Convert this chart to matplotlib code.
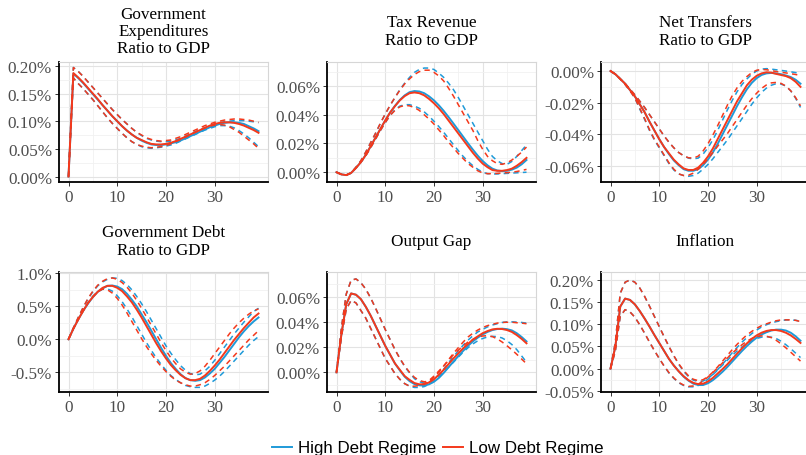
import matplotlib
matplotlib.use("Agg")
import matplotlib.pyplot as plt
from matplotlib.ticker import FixedLocator, FuncFormatter
from matplotlib.lines import Line2D

t = list(range(40))

# ---------------- Government Expenditures (ratio to GDP, %) ----------------
ge_low = [0.000, 0.187, 0.179, 0.170, 0.160, 0.150, 0.140, 0.129, 0.119, 0.109,
          0.100, 0.091, 0.083, 0.076, 0.070, 0.066, 0.062, 0.059, 0.058, 0.058,
          0.059, 0.061, 0.064, 0.068, 0.072, 0.076, 0.080, 0.084, 0.088, 0.092,
          0.095, 0.097, 0.098, 0.098, 0.097, 0.095, 0.092, 0.088, 0.084, 0.079]
ge_low_up = [0.000, 0.197, 0.190, 0.181, 0.171, 0.161, 0.151, 0.141, 0.131, 0.121,
             0.112, 0.103, 0.095, 0.087, 0.080, 0.075, 0.070, 0.067, 0.065, 0.064,
             0.065, 0.066, 0.069, 0.072, 0.076, 0.080, 0.084, 0.088, 0.092, 0.095,
             0.098, 0.100, 0.102, 0.103, 0.104, 0.104, 0.103, 0.102, 0.100, 0.098]
ge_low_lo = [0.000, 0.178, 0.168, 0.159, 0.149, 0.139, 0.128, 0.117, 0.106, 0.096,
             0.087, 0.078, 0.070, 0.063, 0.058, 0.055, 0.053, 0.052, 0.053, 0.054,
             0.056, 0.059, 0.063, 0.067, 0.071, 0.076, 0.080, 0.084, 0.088, 0.091,
             0.093, 0.094, 0.093, 0.090, 0.085, 0.080, 0.073, 0.066, 0.059, 0.051]
ge_high = [0.000, 0.186, 0.178, 0.169, 0.159, 0.149, 0.139, 0.129, 0.119, 0.109,
           0.100, 0.091, 0.083, 0.076, 0.070, 0.065, 0.061, 0.058, 0.057, 0.057,
           0.058, 0.060, 0.062, 0.065, 0.069, 0.073, 0.077, 0.081, 0.085, 0.089,
           0.092, 0.095, 0.097, 0.098, 0.098, 0.097, 0.095, 0.091, 0.087, 0.082]
ge_high_up = [0.000, 0.197, 0.190, 0.181, 0.171, 0.161, 0.151, 0.141, 0.131, 0.121,
              0.112, 0.103, 0.095, 0.087, 0.080, 0.074, 0.069, 0.066, 0.064, 0.063,
              0.063, 0.064, 0.066, 0.069, 0.073, 0.077, 0.081, 0.085, 0.088, 0.092,
              0.095, 0.097, 0.099, 0.100, 0.101, 0.101, 0.101, 0.100, 0.099, 0.097]
ge_high_lo = [0.000, 0.178, 0.168, 0.159, 0.149, 0.139, 0.128, 0.117, 0.106, 0.096,
              0.087, 0.078, 0.070, 0.063, 0.058, 0.054, 0.052, 0.051, 0.052, 0.053,
              0.055, 0.057, 0.060, 0.064, 0.068, 0.072, 0.076, 0.080, 0.084, 0.087,
              0.090, 0.092, 0.092, 0.091, 0.088, 0.083, 0.077, 0.070, 0.062, 0.054]

# ---------------- Tax Revenue (ratio to GDP, %) ----------------
tax_low = [0.0000, -0.0015, -0.0020, -0.0005, 0.0030, 0.0070, 0.0120, 0.0180, 0.0240, 0.0300,
           0.0360, 0.0415, 0.0460, 0.0500, 0.0530, 0.0550, 0.0555, 0.0550, 0.0535, 0.0510,
           0.0480, 0.0445, 0.0405, 0.0360, 0.0315, 0.0270, 0.0225, 0.0180, 0.0135, 0.0095,
           0.0060, 0.0035, 0.0015, 0.0010, 0.0010, 0.0015, 0.0025, 0.0045, 0.0070, 0.0100]
tax_low_up = [0.0000, -0.0015, -0.0020, -0.0005, 0.0035, 0.0080, 0.0140, 0.0205, 0.0270, 0.0340,
              0.0405, 0.0465, 0.0520, 0.0570, 0.0615, 0.0650, 0.0680, 0.0700, 0.0710, 0.0710,
              0.0695, 0.0670, 0.0635, 0.0585, 0.0530, 0.0470, 0.0410, 0.0350, 0.0290, 0.0220,
              0.0160, 0.0110, 0.0080, 0.0060, 0.0055, 0.0065, 0.0085, 0.0110, 0.0140, 0.0175]
tax_low_lo = [0.0000, -0.0015, -0.0020, -0.0005, 0.0030, 0.0070, 0.0115, 0.0170, 0.0230, 0.0290,
              0.0345, 0.0395, 0.0430, 0.0455, 0.0465, 0.0462, 0.0450, 0.0430, 0.0400, 0.0370,
              0.0335, 0.0295, 0.0255, 0.0210, 0.0170, 0.0130, 0.0095, 0.0060, 0.0035, 0.0010,
              -0.0005, -0.0010, -0.0010, -0.0008, -0.0005, -0.0003, 0.0000, 0.0005, 0.0012, 0.0020]
tax_high = [0.0000, -0.0015, -0.0020, -0.0005, 0.0030, 0.0070, 0.0120, 0.0180, 0.0240, 0.0300,
            0.0360, 0.0415, 0.0462, 0.0503, 0.0535, 0.0557, 0.0565, 0.0562, 0.0550, 0.0528,
            0.0500, 0.0466, 0.0427, 0.0384, 0.0339, 0.0293, 0.0247, 0.0201, 0.0157, 0.0115,
            0.0078, 0.0048, 0.0025, 0.0012, 0.0008, 0.0010, 0.0018, 0.0032, 0.0055, 0.0085]
tax_high_up = [0.0000, -0.0015, -0.0020, -0.0005, 0.0035, 0.0080, 0.0140, 0.0205, 0.0270, 0.0340,
               0.0405, 0.0465, 0.0520, 0.0575, 0.0620, 0.0660, 0.0695, 0.0715, 0.0725, 0.0725,
               0.0715, 0.0690, 0.0660, 0.0620, 0.0575, 0.0520, 0.0460, 0.0400, 0.0340, 0.0280,
               0.0220, 0.0160, 0.0110, 0.0080, 0.0060, 0.0055, 0.0075, 0.0110, 0.0150, 0.0190]
tax_high_lo = [0.0000, -0.0015, -0.0020, -0.0005, 0.0030, 0.0070, 0.0115, 0.0170, 0.0230, 0.0290,
               0.0345, 0.0395, 0.0435, 0.0460, 0.0470, 0.0470, 0.0460, 0.0445, 0.0420, 0.0390,
               0.0355, 0.0318, 0.0278, 0.0235, 0.0192, 0.0150, 0.0110, 0.0075, 0.0045, 0.0020,
               0.0000, -0.0010, -0.0012, -0.0012, -0.0010, -0.0008, -0.0006, -0.0004, -0.0002, 0.0000]

# ---------------- Net Transfers (ratio to GDP, %) ----------------
nt_low = [0.0000, -0.0020, -0.0050, -0.0080, -0.0120, -0.0160, -0.0210, -0.0260, -0.0320, -0.0375,
          -0.0430, -0.0480, -0.0520, -0.0560, -0.0590, -0.0615, -0.0625, -0.0625, -0.0610, -0.0580,
          -0.0540, -0.0490, -0.0430, -0.0370, -0.0310, -0.0250, -0.0190, -0.0140, -0.0090, -0.0055,
          -0.0030, -0.0015, -0.0008, -0.0010, -0.0018, -0.0025, -0.0032, -0.0045, -0.0068, -0.0100]
nt_low_up = [0.0000, -0.0020, -0.0050, -0.0080, -0.0115, -0.0150, -0.0190, -0.0230, -0.0275, -0.0320,
             -0.0365, -0.0410, -0.0450, -0.0485, -0.0515, -0.0535, -0.0548, -0.0550, -0.0538, -0.0505,
             -0.0460, -0.0405, -0.0345, -0.0280, -0.0215, -0.0155, -0.0105, -0.0065, -0.0035, -0.0010,
             0.0005, 0.0010, 0.0008, 0.0003, -0.0003, -0.0008, -0.0012, -0.0017, -0.0022, -0.0028]
nt_low_lo = [0.0000, -0.0020, -0.0050, -0.0085, -0.0125, -0.0170, -0.0235, -0.0300, -0.0370, -0.0430,
             -0.0480, -0.0530, -0.0580, -0.0620, -0.0650, -0.0660, -0.0658, -0.0645, -0.0620, -0.0590,
             -0.0555, -0.0515, -0.0475, -0.0435, -0.0395, -0.0350, -0.0305, -0.0260, -0.0215, -0.0175,
             -0.0140, -0.0110, -0.0088, -0.0075, -0.0072, -0.0078, -0.0095, -0.0125, -0.0168, -0.0220]
nt_high = [0.0000, -0.0020, -0.0050, -0.0080, -0.0120, -0.0160, -0.0210, -0.0260, -0.0320, -0.0375,
           -0.0430, -0.0480, -0.0525, -0.0565, -0.0595, -0.0620, -0.0630, -0.0630, -0.0620, -0.0595,
           -0.0560, -0.0515, -0.0460, -0.0400, -0.0340, -0.0280, -0.0220, -0.0165, -0.0115, -0.0075,
           -0.0045, -0.0025, -0.0015, -0.0012, -0.0015, -0.0020, -0.0028, -0.0038, -0.0055, -0.0080]
nt_high_up = [0.0000, -0.0020, -0.0050, -0.0080, -0.0115, -0.0150, -0.0190, -0.0230, -0.0275, -0.0320,
              -0.0365, -0.0410, -0.0450, -0.0485, -0.0515, -0.0535, -0.0550, -0.0555, -0.0550, -0.0525,
              -0.0485, -0.0435, -0.0375, -0.0310, -0.0245, -0.0185, -0.0130, -0.0085, -0.0050, -0.0020,
              0.0000, 0.0012, 0.0015, 0.0012, 0.0008, 0.0004, 0.0000, -0.0005, -0.0010, -0.0015]
nt_high_lo = [0.0000, -0.0020, -0.0050, -0.0085, -0.0125, -0.0170, -0.0240, -0.0305, -0.0375, -0.0435,
              -0.0485, -0.0535, -0.0585, -0.0625, -0.0650, -0.0660, -0.0665, -0.0660, -0.0645, -0.0620,
              -0.0590, -0.0555, -0.0515, -0.0475, -0.0435, -0.0390, -0.0345, -0.0300, -0.0255, -0.0210,
              -0.0170, -0.0135, -0.0108, -0.0090, -0.0080, -0.0082, -0.0095, -0.0125, -0.0172, -0.0230]

# ---------------- Government Debt (ratio to GDP, %) ----------------
gd_low = [0.00, 0.16, 0.30, 0.43, 0.55, 0.64, 0.72, 0.78, 0.81, 0.81,
          0.78, 0.73, 0.65, 0.56, 0.45, 0.33, 0.20, 0.07, -0.06, -0.18,
          -0.29, -0.39, -0.47, -0.54, -0.59, -0.62, -0.62, -0.60, -0.55, -0.48,
          -0.40, -0.31, -0.21, -0.11, -0.01, 0.08, 0.17, 0.25, 0.33, 0.39]
gd_low_up = [0.00, 0.17, 0.33, 0.48, 0.62, 0.73, 0.82, 0.88, 0.92, 0.93,
             0.91, 0.86, 0.79, 0.70, 0.59, 0.47, 0.34, 0.21, 0.08, -0.05,
             -0.17, -0.28, -0.37, -0.45, -0.50, -0.53, -0.52, -0.48, -0.41, -0.32,
             -0.22, -0.12, -0.02, 0.08, 0.17, 0.25, 0.32, 0.38, 0.43, 0.46]
gd_low_lo = [0.00, 0.16, 0.30, 0.43, 0.55, 0.65, 0.72, 0.76, 0.75, 0.70,
             0.62, 0.52, 0.40, 0.27, 0.14, 0.01, -0.11, -0.22, -0.32, -0.41,
             -0.49, -0.56, -0.62, -0.66, -0.69, -0.71, -0.71, -0.69, -0.66, -0.61,
             -0.55, -0.48, -0.41, -0.33, -0.25, -0.17, -0.09, -0.01, 0.06, 0.13]
gd_high = [0.00, 0.16, 0.30, 0.43, 0.54, 0.64, 0.72, 0.77, 0.81, 0.815,
           0.80, 0.76, 0.69, 0.60, 0.50, 0.38, 0.26, 0.13, 0.00, -0.13,
           -0.25, -0.36, -0.45, -0.53, -0.59, -0.62, -0.63, -0.62, -0.58, -0.52,
           -0.45, -0.36, -0.27, -0.17, -0.07, 0.03, 0.12, 0.20, 0.27, 0.33]
gd_high_up = [0.00, 0.17, 0.33, 0.48, 0.61, 0.72, 0.81, 0.87, 0.91, 0.93,
              0.925, 0.89, 0.83, 0.75, 0.65, 0.54, 0.42, 0.29, 0.16, 0.03,
              -0.10, -0.21, -0.31, -0.40, -0.47, -0.52, -0.54, -0.53, -0.48, -0.41,
              -0.32, -0.22, -0.12, -0.02, 0.08, 0.17, 0.26, 0.34, 0.42, 0.47]
gd_high_lo = [0.00, 0.16, 0.30, 0.43, 0.55, 0.65, 0.72, 0.76, 0.765, 0.73,
              0.66, 0.57, 0.46, 0.34, 0.21, 0.08, -0.05, -0.17, -0.28, -0.38,
              -0.47, -0.55, -0.61, -0.66, -0.70, -0.72, -0.73, -0.73, -0.71, -0.67,
              -0.62, -0.56, -0.49, -0.41, -0.33, -0.25, -0.17, -0.09, -0.02, 0.04]

# ---------------- Output Gap (%) ----------------
og_low = [0.0000, 0.0300, 0.0540, 0.0625, 0.0615, 0.0580, 0.0520, 0.0450, 0.0370, 0.0290,
          0.0210, 0.0140, 0.0070, 0.0020, -0.0030, -0.0060, -0.0085, -0.0095, -0.0095, -0.0080,
          -0.0055, -0.0020, 0.0020, 0.0065, 0.0110, 0.0150, 0.0190, 0.0225, 0.0260, 0.0285,
          0.0310, 0.0327, 0.0340, 0.0345, 0.0343, 0.0335, 0.0320, 0.0295, 0.0265, 0.0230]
og_low_up = [0.0000, 0.0350, 0.0620, 0.0730, 0.0740, 0.0710, 0.0660, 0.0590, 0.0510, 0.0425,
             0.0340, 0.0260, 0.0180, 0.0110, 0.0050, 0.0000, -0.0040, -0.0065, -0.0075, -0.0070,
             -0.0040, 0.0000, 0.0050, 0.0100, 0.0150, 0.0195, 0.0240, 0.0280, 0.0310, 0.0335,
             0.0355, 0.0370, 0.0380, 0.0390, 0.0395, 0.0397, 0.0397, 0.0393, 0.0390, 0.0385]
og_low_lo = [0.0000, 0.0280, 0.0500, 0.0570, 0.0550, 0.0490, 0.0430, 0.0350, 0.0270, 0.0190,
             0.0110, 0.0050, -0.0010, -0.0055, -0.0090, -0.0110, -0.0110, -0.0105, -0.0090, -0.0065,
             -0.0030, 0.0010, 0.0050, 0.0095, 0.0140, 0.0175, 0.0210, 0.0240, 0.0260, 0.0277,
             0.0288, 0.0290, 0.0283, 0.0265, 0.0240, 0.0210, 0.0178, 0.0143, 0.0105, 0.0068]
og_high = [0.0000, 0.0300, 0.0540, 0.0625, 0.0615, 0.0580, 0.0520, 0.0450, 0.0370, 0.0290,
           0.0210, 0.0140, 0.0070, 0.0015, -0.0035, -0.0070, -0.0093, -0.0103, -0.0105, -0.0095,
           -0.0075, -0.0045, -0.0005, 0.0040, 0.0085, 0.0128, 0.0170, 0.0210, 0.0245, 0.0275,
           0.0300, 0.0320, 0.0335, 0.0343, 0.0346, 0.0342, 0.0332, 0.0310, 0.0280, 0.0245]
og_high_up = [0.0000, 0.0350, 0.0620, 0.0730, 0.0740, 0.0710, 0.0660, 0.0590, 0.0510, 0.0425,
              0.0340, 0.0260, 0.0180, 0.0110, 0.0045, -0.0005, -0.0050, -0.0075, -0.0085, -0.0080,
              -0.0055, -0.0020, 0.0025, 0.0075, 0.0125, 0.0170, 0.0215, 0.0255, 0.0290, 0.0320,
              0.0340, 0.0360, 0.0375, 0.0385, 0.0395, 0.0400, 0.0400, 0.0398, 0.0395, 0.0390]
og_high_lo = [0.0000, 0.0280, 0.0500, 0.0570, 0.0550, 0.0490, 0.0430, 0.0350, 0.0270, 0.0190,
              0.0110, 0.0050, -0.0010, -0.0055, -0.0090, -0.0110, -0.0120, -0.0120, -0.0113, -0.0095,
              -0.0070, -0.0035, 0.0005, 0.0040, 0.0080, 0.0120, 0.0160, 0.0195, 0.0225, 0.0250,
              0.0268, 0.0280, 0.0285, 0.0283, 0.0272, 0.0250, 0.0220, 0.0180, 0.0130, 0.0080]

# ---------------- Inflation (%) ----------------
inf_low = [0.000, 0.050, 0.140, 0.158, 0.155, 0.145, 0.130, 0.113, 0.095, 0.076,
           0.058, 0.040, 0.022, 0.007, -0.006, -0.017, -0.026, -0.032, -0.035, -0.034,
           -0.029, -0.021, -0.011, -0.001, 0.010, 0.022, 0.034, 0.046, 0.057, 0.067,
           0.075, 0.081, 0.085, 0.087, 0.087, 0.085, 0.081, 0.075, 0.067, 0.058]
inf_low_up = [0.000, 0.060, 0.170, 0.195, 0.200, 0.195, 0.182, 0.163, 0.141, 0.118,
              0.095, 0.072, 0.050, 0.029, 0.011, -0.004, -0.016, -0.024, -0.027, -0.025,
              -0.018, -0.008, 0.004, 0.017, 0.030, 0.043, 0.055, 0.066, 0.076, 0.084,
              0.091, 0.097, 0.101, 0.105, 0.108, 0.110, 0.110, 0.110, 0.109, 0.106]
inf_low_lo = [0.000, 0.040, 0.118, 0.133, 0.128, 0.116, 0.099, 0.080, 0.060, 0.041,
              0.023, 0.006, -0.009, -0.021, -0.031, -0.037, -0.040, -0.039, -0.035, -0.028,
              -0.019, -0.009, 0.002, 0.013, 0.024, 0.035, 0.045, 0.054, 0.062, 0.068,
              0.072, 0.074, 0.073, 0.070, 0.064, 0.056, 0.047, 0.037, 0.027, 0.017]
inf_high = [0.000, 0.050, 0.140, 0.158, 0.155, 0.145, 0.130, 0.113, 0.095, 0.076,
            0.058, 0.040, 0.022, 0.007, -0.006, -0.018, -0.027, -0.034, -0.037, -0.037,
            -0.033, -0.026, -0.017, -0.007, 0.004, 0.016, 0.028, 0.040, 0.051, 0.061,
            0.070, 0.077, 0.082, 0.086, 0.088, 0.088, 0.086, 0.081, 0.073, 0.063]
inf_high_up = [0.000, 0.060, 0.170, 0.195, 0.200, 0.195, 0.182, 0.163, 0.141, 0.118,
               0.095, 0.072, 0.050, 0.029, 0.010, -0.006, -0.018, -0.026, -0.029, -0.028,
               -0.022, -0.013, -0.002, 0.010, 0.023, 0.036, 0.048, 0.060, 0.070, 0.079,
               0.087, 0.094, 0.099, 0.103, 0.106, 0.108, 0.110, 0.110, 0.109, 0.107]
inf_high_lo = [0.000, 0.040, 0.118, 0.133, 0.128, 0.116, 0.099, 0.080, 0.060, 0.041,
               0.023, 0.006, -0.010, -0.022, -0.032, -0.038, -0.041, -0.041, -0.038, -0.032,
               -0.024, -0.014, -0.003, 0.008, 0.019, 0.030, 0.040, 0.049, 0.057, 0.063,
               0.068, 0.071, 0.072, 0.071, 0.068, 0.062, 0.054, 0.045, 0.035, 0.025]

titles = ["Government\nExpenditures\nRatio to GDP", "Tax Revenue\nRatio to GDP",
          "Net Transfers\nRatio to GDP", "Government Debt\nRatio to GDP",
          "Output Gap", "Inflation"]
series_labels = ["High Debt Regime", "Low Debt Regime"]
x_ticks = [0, 10, 20, 30]

panels = [
    dict(high=(ge_high, ge_high_lo, ge_high_up), low=(ge_low, ge_low_lo, ge_low_up),
         yticks=[0.0, 0.05, 0.10, 0.15, 0.20], ylim=(-0.0099, 0.207), dec=2),
    dict(high=(tax_high, tax_high_lo, tax_high_up), low=(tax_low, tax_low_lo, tax_low_up),
         yticks=[0.0, 0.02, 0.04, 0.06], ylim=(-0.0068, 0.0767), dec=2),
    dict(high=(nt_high, nt_high_lo, nt_high_up), low=(nt_low, nt_low_lo, nt_low_up),
         yticks=[-0.06, -0.04, -0.02, 0.0], ylim=(-0.0701, 0.0057), dec=2),
    dict(high=(gd_high, gd_high_lo, gd_high_up), low=(gd_low, gd_low_lo, gd_low_up),
         yticks=[-0.5, 0.0, 0.5, 1.0], ylim=(-0.80, 1.02), dec=1),
    dict(high=(og_high, og_high_lo, og_high_up), low=(og_low, og_low_lo, og_low_up),
         yticks=[0.0, 0.02, 0.04, 0.06], ylim=(-0.0156, 0.0795), dec=2),
    dict(high=(inf_high, inf_high_lo, inf_high_up), low=(inf_low, inf_low_lo, inf_low_up),
         yticks=[-0.05, 0.0, 0.05, 0.10, 0.15, 0.20], ylim=(-0.0527, 0.218), dec=2),
]

BLUE = "#1f9ad8"
RED = "#f4391c"
W, H = 806, 456
fig = plt.figure(figsize=(W / 100, H / 100), dpi=100)

lefts = [59, 327, 601]
rows = [(63, 183, 32), (273, 393, 242)]
serif = ["Liberation Serif", "DejaVu Serif"]

for i, p in enumerate(panels):
    r, c = divmod(i, 3)
    top, bot, tcy = rows[r]
    l = lefts[c]
    ax = fig.add_axes([l / W, 1 - bot / H, 209 / W, (bot - top) / H])
    ax.set_xlim(-1.95, 40.95)
    ax.set_ylim(*p["ylim"])
    ax.set_facecolor("white")
    yt = p["yticks"]
    step = yt[1] - yt[0]
    ax.xaxis.set_major_locator(FixedLocator(x_ticks))
    ax.xaxis.set_minor_locator(FixedLocator([5, 15, 25, 35]))
    ax.yaxis.set_major_locator(FixedLocator(yt))
    ax.yaxis.set_minor_locator(FixedLocator([v + step / 2 for v in [yt[0] - step] + yt]))
    dec = p["dec"]
    ax.yaxis.set_major_formatter(FuncFormatter(
        lambda v, pos, d=dec: (f"{v:.{d}f}%" if abs(v) > 1e-12 else f"{0:.{d}f}%")))
    ax.grid(which="major", color="#e3e3e3", lw=0.8)
    ax.grid(which="minor", color="#f1f1f1", lw=0.6)
    ax.set_axisbelow(True)
    for s in ["top", "right"]:
        ax.spines[s].set_color("#d6d6d6")
        ax.spines[s].set_linewidth(0.8)
    for s in ["left", "bottom"]:
        ax.spines[s].set_color("black")
        ax.spines[s].set_linewidth(1.3)
    ax.tick_params(which="major", length=3, width=0.7, color="#333333", pad=2,
                   labelsize=12.3, labelcolor="#4d4d4d")
    ax.tick_params(which="minor", length=0)
    for lab in ax.get_xticklabels() + ax.get_yticklabels():
        lab.set_family(serif)
    for key, col in (("high", BLUE), ("low", RED)):
        mid, lo, up = p[key]
        ax.plot(t, lo, color=col, lw=1.1, dashes=(3.5, 2.8))
        ax.plot(t, up, color=col, lw=1.1, dashes=(3.5, 2.8))
        ax.plot(t, mid, color=col, lw=1.4)
    fig.text((l + 104.5) / W, 1 - tcy / H, titles[i], ha="center", va="center",
             multialignment="center", fontsize=12.3, family=serif, linespacing=1.1)

handles = [Line2D([], [], color=BLUE, lw=1.4), Line2D([], [], color=RED, lw=1.4)]
fig.legend(handles, series_labels, loc="center", bbox_to_anchor=(438 / W, 1 - 449 / H),
           ncol=2, frameon=False, handlelength=1.18, handletextpad=0.35, columnspacing=0.42,
           borderpad=0, prop={"family": ["Liberation Sans", "DejaVu Sans"], "size": 12.2})

fig.savefig("out.png", dpi=100)
